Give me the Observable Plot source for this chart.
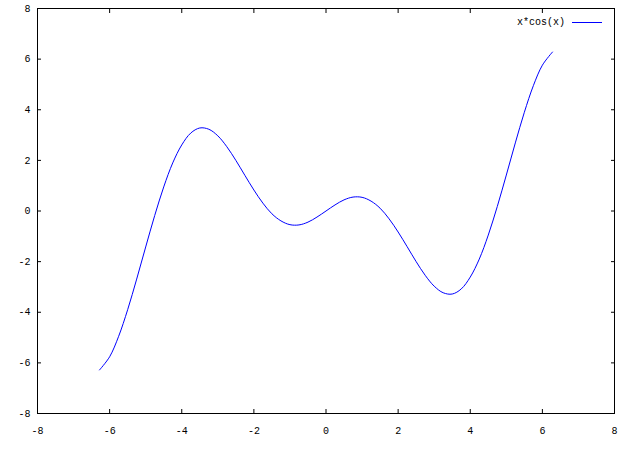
<!DOCTYPE html>
<html>
<head>
<meta charset="utf-8">
<script src="https://cdn.jsdelivr.net/npm/d3@7"></script>
<script src="https://cdn.jsdelivr.net/npm/@observablehq/plot@0.6"></script>
<style>
  html, body { margin: 0; padding: 0; background: #fff; }
  #wrap { position: relative; width: 640px; height: 450px; }
  #legend { position: absolute; top: 16px; right: 38px; display: flex; align-items: center; height: 13px;
            font: 10px "Liberation Mono", "DejaVu Sans Mono", monospace; color: #000; line-height: 13px; }
  #legend svg { margin-left: 7px; display: block; }
</style>
</head>
<body>
<div id="wrap">
  <div id="legend"><span>x*cos(x)</span><svg width="30" height="3"><line x1="0" x2="30" y1="1.5" y2="1.5" stroke="#0000ff" stroke-width="1"/></svg></div>
</div>
<script>
// values (x, x*cos(x))
const xs = [-6.28, -6.0, -5.75, -5.5, -5.25, -5.0, -4.75, -4.5, -4.25, -4.0, -3.75, -3.5, -3.25, -3.0, -2.75, -2.5, -2.25, -2.0, -1.75, -1.5, -1.25, -1.0, -0.75, -0.5, -0.25,
            0, 0.25, 0.5, 0.75, 1.0, 1.25, 1.5, 1.75, 2.0, 2.25, 2.5, 2.75, 3.0, 3.25, 3.5, 3.75, 4.0, 4.25, 4.5, 4.75, 5.0, 5.25, 5.5, 5.75, 6.0, 6.28];
const ys = [-6.28, -5.76, -4.95, -3.90, -2.69, -1.42, -0.18, 0.95, 1.90, 2.61, 3.08, 3.28, 3.23, 2.97, 2.54, 2.00, 1.41, 0.83, 0.31, -0.11, -0.39, -0.54, -0.55, -0.44, -0.24,
            0, 0.24, 0.44, 0.55, 0.54, 0.39, 0.11, -0.31, -0.83, -1.41, -2.00, -2.54, -2.97, -3.23, -3.28, -3.08, -2.61, -1.90, -0.95, 0.18, 1.42, 2.69, 3.90, 4.95, 5.76, 6.28];
const xTicks = [-8, -6, -4, -2, 0, 2, 4, 6, 8];
const yTicks = [-8, -6, -4, -2, 0, 2, 4, 6, 8];
const seriesName = "x*cos(x)";

const data = xs.map((x, i) => ({x, y: ys[i]}));
const fmt = d => String(d);

const chart = Plot.plot({
  width: 640,
  height: 450,
  marginLeft: 37,
  marginRight: 26,
  marginTop: 8,
  marginBottom: 37,
  style: {fontFamily: '"Liberation Mono", "DejaVu Sans Mono", monospace', fontSize: "10px", background: "#fff", color: "#000"},
  x: {domain: [-8, 8], ticks: xTicks},
  y: {domain: [-8, 8], ticks: yTicks},
  marks: [
    Plot.axisX({anchor: "bottom", ticks: xTicks, tickSize: -4, tickPadding: 17, tickFormat: fmt, label: null}),
    Plot.axisX({anchor: "top", ticks: xTicks, tickSize: -4, tickFormat: () => "", label: null}),
    Plot.axisY({anchor: "left", ticks: yTicks, tickSize: -4, tickPadding: 11, tickFormat: fmt, label: null}),
    Plot.axisY({anchor: "right", ticks: yTicks, tickSize: -4, tickFormat: () => "", label: null}),
    Plot.line(data, {x: "x", y: "y", stroke: "#0000ff", strokeWidth: 1, curve: "catmull-rom"}),
    Plot.frame({stroke: "#000", strokeWidth: 1})
  ]
});
document.getElementById("wrap").prepend(chart);
document.querySelector("#legend span").textContent = seriesName;
</script>
</body>
</html>
